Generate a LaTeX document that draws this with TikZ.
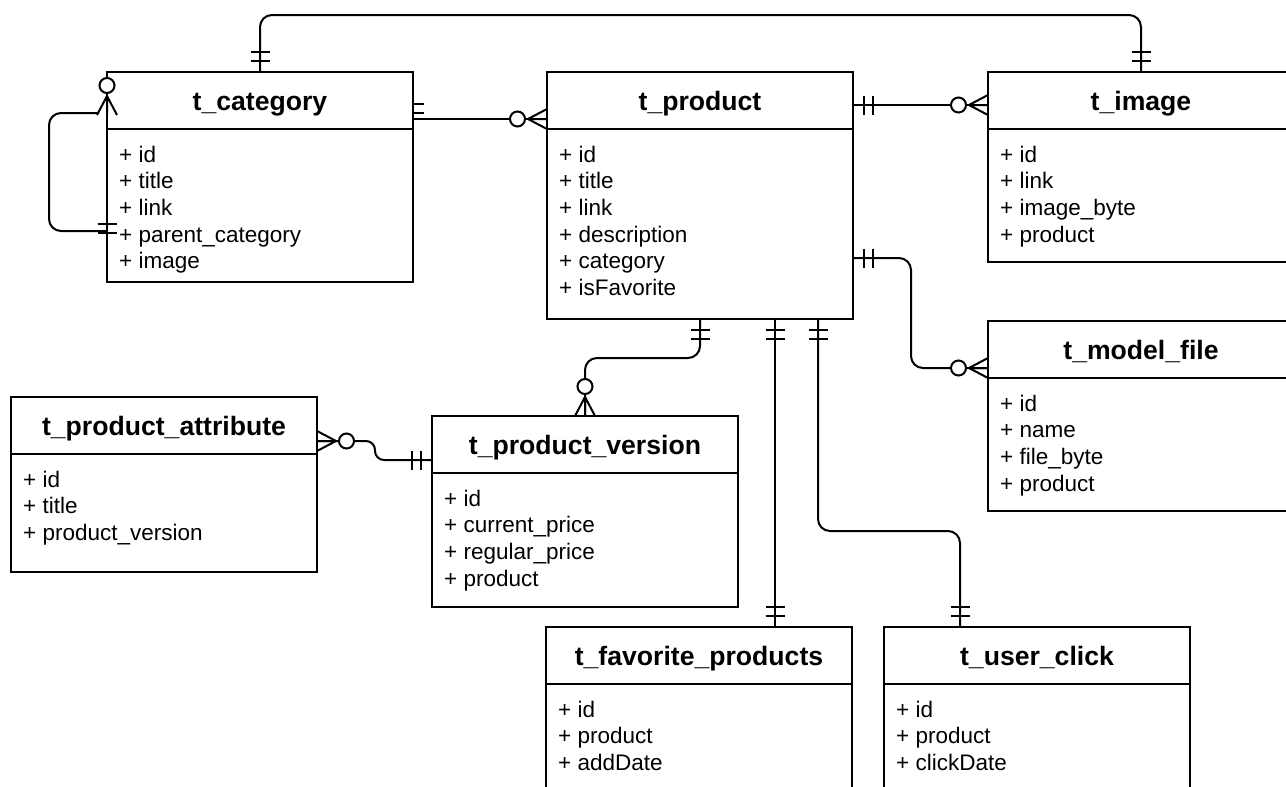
\documentclass[tikz,border=0pt]{standalone}
\usepackage{fontspec}
\setmainfont{Liberation Sans}
\usetikzlibrary{calc}

\tikzset{
  tbl/.style={draw, line width=2pt, fill=white, inner sep=0pt, outer sep=0pt, rectangle},
  hdr/.style={font=\fontsize{26.6}{32}\selectfont\bfseries, inner sep=0pt, anchor=base},
  attr/.style={font=\fontsize{22.5}{27}\selectfont, inner sep=0pt, anchor=base west},
  rel/.style={line width=2pt, rounded corners=12pt},
  mk/.style={line width=2pt},
  % one and only one: two bars across the line
  mone/.pic={\draw[mk] (11,-9.5) -- (11,9.5) (20,-9.5) -- (20,9.5);},
  % zero or many: crow's foot and a ring
  zmany/.pic={\draw[mk] (0,-10) -- (19,0) -- (0,10) (0,0) -- (19,0);
              \draw[mk, fill=white] (29.5,0) circle[radius=7.5];}
}

% #1 name, #2 left, #3 top, #4 width, #5 height, #6 title, #7 fields
\newcommand\ertable[7]{%
  \node[tbl, minimum width=#4pt, minimum height=#5pt, anchor=north west] (#1) at (#2,#3) {};
  \draw[mk] ([yshift=-57pt]#1.north west) -- ([yshift=-57pt]#1.north east);
  \node[hdr] (#1-title) at ([yshift=-38pt]#1.north) {#6};
  \foreach \a [count=\i, evaluate=\i as \yy using -90-(\i-1)*26.7] in {#7}
    \node[attr] (#1-\i) at ([xshift=12pt, yshift=\yy pt]#1.north west) {\a};
}

\begin{document}
\begin{tikzpicture}[x=1pt,y=-1pt]
\useasboundingbox (0,0) rectangle (1286,787);
\clip (0,0) rectangle (1286,787);
\fill[white] (0,0) rectangle (1286,787);

\ertable{cat}{107}{72}{306}{210}{t\_category}{+ id, + title, + link, + parent\_category, + image}
\ertable{prod}{547}{72}{306}{247}{t\_product}{+ id, + title, + link, + description, + category, + isFavorite}
\ertable{img}{988}{72}{306}{190}{t\_image}{+ id, + link, + image\_byte, + product}
\ertable{model}{988}{321}{306}{190}{t\_model\_file}{+ id, + name, + file\_byte, + product}
\ertable{attr}{11}{397}{306}{175}{t\_product\_attribute}{+ id, + title, + product\_version}
\ertable{ver}{432}{416}{306}{191}{t\_product\_version}{+ id, + current\_price, + regular\_price, + product}
\ertable{fav}{546}{627}{306}{200}{t\_favorite\_products}{+ id, + product, + addDate}
\ertable{click}{884}{627}{306}{200}{t\_user\_click}{+ id, + product, + clickDate}

% category -- image, over the top
\draw[rel] (cat.north) -- ([yshift=57pt]cat.north) -| (img.north);
\pic[rotate=90] at (cat.north) {mone};
\pic[rotate=90] at (img.north) {mone};

% category -- product
\draw[rel] ([yshift=-47pt]cat.north east) -- ([yshift=-47pt]prod.north west);
\draw[mk] ([yshift=-32pt]cat.north east) -- ++(11,0)
          ([yshift=-41pt]cat.north east) -- ++(11,0);
\pic[rotate=180] at ([yshift=-47pt]prod.north west) {zmany};

% category parent (self reference)
\draw[rel] ([xshift=-9pt,yshift=-41pt]cat.north west) -- ++(-49,0) |- ([yshift=-159pt]cat.north west);
\pic[rotate=90] at ([yshift=-43pt]cat.north west) {zmany};
\pic[rotate=90] at ([yshift=-172pt]cat.north west) {mone};

% product -- image
\draw[rel] ([yshift=-33pt]prod.north east) -- ([yshift=-33pt]img.north west);
\pic at ([yshift=-33pt]prod.north east) {mone};
\pic[rotate=180] at ([yshift=-33pt]img.north west) {zmany};

% product -- model file
\draw[rel] ([yshift=-186pt]prod.north east) -- ++(58,0) |- ([yshift=-47pt]model.north west);
\pic at ([yshift=-186pt]prod.north east) {mone};
\pic[rotate=180] at ([yshift=-47pt]model.north west) {zmany};

% product -- product version
\draw[rel] (prod.south) -- ++(0,39) -| (ver.north);
\pic[rotate=-90] at (prod.south) {mone};
\pic[rotate=90] at (ver.north) {zmany};

% product attribute -- product version
\draw[rel, rounded corners=9pt] ([yshift=-44pt]attr.north east) -- ++(58,0) |- ([yshift=-44pt]ver.north west);
\pic at ([yshift=-44pt]attr.north east) {zmany};
\pic[rotate=180] at ([yshift=-44pt]ver.north west) {mone};

% product -- favorite products
\coordinate (pf) at ([xshift=228pt]prod.south west);
\draw[rel] (pf) -- (pf |- fav.north);
\pic[rotate=-90] at (pf) {mone};
\pic[rotate=90] at (pf |- fav.north) {mone};

% product -- user click
\coordinate (pc) at ([xshift=271pt]prod.south west);
\coordinate (uc) at ([xshift=76pt]click.north west);
\draw[rel] (pc) -- ++(0,212) -| (uc);
\pic[rotate=-90] at (pc) {mone};
\pic[rotate=90] at (uc) {mone};
\end{tikzpicture}
\end{document}
